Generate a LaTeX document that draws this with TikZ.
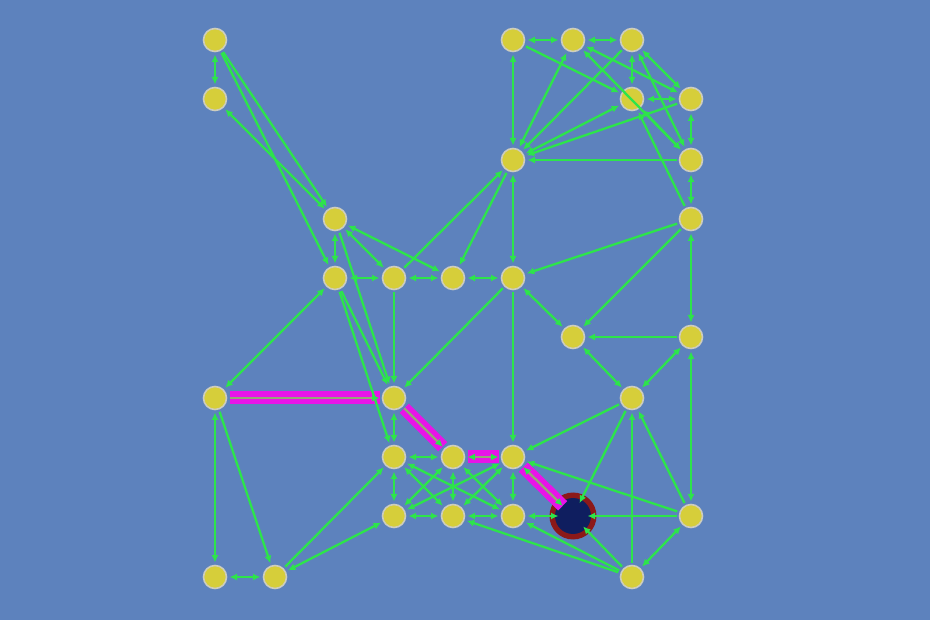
\documentclass[tikz,border=0pt]{standalone}
\usetikzlibrary{arrows.meta}
\definecolor{bgc}{RGB}{93,130,189}
\definecolor{nodefill}{RGB}{214,206,58}
\definecolor{nodeline}{RGB}{205,205,190}
\definecolor{edgec}{RGB}{45,228,75}
\definecolor{hlc}{RGB}{232,20,232}
\definecolor{hlin}{RGB}{150,165,120}
\definecolor{tfill}{RGB}{15,30,95}
\definecolor{tring}{RGB}{140,25,25}
\begin{document}
\begin{tikzpicture}[x=1pt,y=-1pt,
 vtx/.style={circle,fill=nodefill,draw=nodeline,line width=1.6pt,minimum size=23pt,inner sep=0pt,outer sep=3pt},
 ghost/.style={circle,minimum size=23pt,inner sep=0pt,outer sep=3pt},
 e/.style={draw=edgec,line width=2.3pt,-{Latex[length=7.5pt,width=7pt]}},
 ee/.style={draw=edgec,line width=2.3pt,{Latex[length=7.5pt,width=7pt]}-{Latex[length=7.5pt,width=7pt]}},
 hl/.style={draw=hlc,line width=13pt},
 hle/.style={draw=hlin,line width=2.3pt,-{Latex[length=7.5pt,width=7pt,color=edgec]}},
 hlee/.style={draw=hlin,line width=2.3pt,{Latex[length=7.5pt,width=7pt,color=edgec]}-{Latex[length=7.5pt,width=7pt,color=edgec]}}]
\fill[bgc] (0,0) rectangle (930,620);
\useasboundingbox (0,0) rectangle (930,620);
% nodes
\node[vtx] (A) at (215,40) {};
\node[vtx] (B) at (215,99) {};
\node[vtx] (C) at (513,40) {};
\node[vtx] (D) at (573,40) {};
\node[vtx] (E) at (632,40) {};
\node[vtx] (F) at (632,99) {};
\node[vtx] (G) at (691,99) {};
\node[vtx] (H) at (513,160) {};
\node[vtx] (I) at (691,160) {};
\node[vtx] (J) at (335,219) {};
\node[vtx] (K) at (691,219) {};
\node[vtx] (L) at (335,278) {};
\node[vtx] (M) at (394,278) {};
\node[vtx] (N) at (453,278) {};
\node[vtx] (O) at (513,278) {};
\node[vtx] (P) at (573,337) {};
\node[vtx] (Q) at (691,337) {};
\node[vtx] (R) at (215,398) {};
\node[vtx] (S) at (394,398) {};
\node[vtx] (T) at (632,398) {};
\node[vtx] (U) at (394,457) {};
\node[vtx] (V) at (453,457) {};
\node[vtx] (W) at (513,457) {};
\node[vtx] (X) at (394,516) {};
\node[vtx] (Y) at (453,516) {};
\node[vtx] (Z) at (513,516) {};
\node[vtx] (AA) at (691,516) {};
\node[vtx] (BB) at (215,577) {};
\node[vtx] (CC) at (275,577) {};
\node[vtx] (DD) at (632,577) {};
\node[ghost] (T0) at (573,516) {};
\fill[tring] (T0.center) circle (23.5);
\fill[tfill] (T0.center) circle (18);
% highlighted path
\draw[hl] (R) -- (S);
\draw[hl] (S) -- (V);
\draw[hl] (V) -- (W);
\draw[hl] (W) -- (T0);
\draw[hle] (R) -- (S);
\draw[hle] (S) -- (V);
\draw[hlee] (V) -- (W);
\draw[hlee] (W) -- (T0);
% edges
\draw[ee] (A) -- (B);
\draw[e] (A) -- (J);
\draw[e] (A) -- (L);
\draw[ee] (B) -- (J);
\draw[ee] (C) -- (D);
\draw[ee] (D) -- (E);
\draw[ee] (C) -- (H);
\draw[e] (C) -- (F);
\draw[ee] (D) -- (H);
\draw[e] (E) -- (H);
\draw[ee] (E) -- (F);
\draw[ee] (F) -- (G);
\draw[ee] (D) -- (G);
\draw[ee] (D) -- (I);
\draw[ee] (E) -- (G);
\draw[ee] (E) -- (I);
\draw[ee] (G) -- (I);
\draw[ee] (H) -- (F);
\draw[e] (G) -- (H);
\draw[e] (I) -- (H);
\draw[e] (K) -- (F);
\draw[ee] (F) -- (I);
\draw[e] (M) -- (H);
\draw[e] (H) -- (N);
\draw[ee] (H) -- (O);
\draw[ee] (J) -- (L);
\draw[ee] (J) -- (M);
\draw[ee] (J) -- (N);
\draw[ee] (L) -- (M);
\draw[ee] (M) -- (N);
\draw[ee] (N) -- (O);
\draw[e] (J) -- (S);
\draw[e] (L) -- (S);
\draw[e] (L) -- (U);
\draw[e] (M) -- (S);
\draw[e] (O) -- (S);
\draw[ee] (L) -- (R);
\draw[ee] (S) -- (U);
\draw[ee] (I) -- (K);
\draw[e] (K) -- (O);
\draw[e] (K) -- (P);
\draw[ee] (K) -- (Q);
\draw[ee] (O) -- (P);
\draw[e] (Q) -- (P);
\draw[e] (O) -- (W);
\draw[ee] (P) -- (T);
\draw[ee] (Q) -- (T);
\draw[e] (T) -- (W);
\draw[e] (T) -- (T0);
\draw[e] (DD) -- (T);
\draw[e] (AA) -- (T);
\draw[ee] (Q) -- (AA);
\draw[e] (AA) -- (W);
\draw[e] (AA) -- (T0);
\draw[ee] (DD) -- (AA);
\draw[e] (DD) -- (T0);
\draw[e] (DD) -- (Z);
\draw[e] (DD) -- (Y);
\draw[ee] (T0) -- (Z);
\draw[ee] (W) -- (Z);
\draw[ee] (U) -- (V);
\draw[ee] (U) -- (X);
\draw[ee] (X) -- (Y);
\draw[ee] (Y) -- (Z);
\draw[ee] (V) -- (Y);
\draw[ee] (U) -- (Y);
\draw[ee] (U) -- (Z);
\draw[ee] (V) -- (X);
\draw[ee] (W) -- (X);
\draw[ee] (V) -- (Z);
\draw[ee] (W) -- (Y);
\draw[e] (CC) -- (U);
\draw[ee] (X) -- (CC);
\draw[ee] (R) -- (BB);
\draw[e] (R) -- (CC);
\draw[ee] (BB) -- (CC);
\end{tikzpicture}
\end{document}
